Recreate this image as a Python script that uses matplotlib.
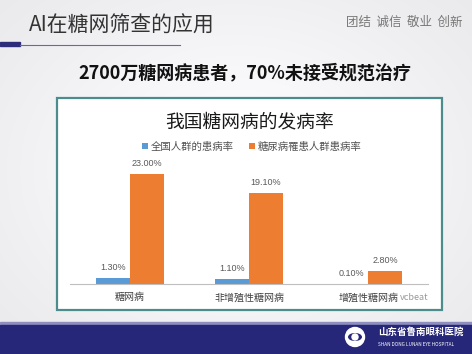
import numpy as np
import matplotlib
matplotlib.use("Agg")
import matplotlib.pyplot as plt
from matplotlib.patches import Rectangle, Circle, Ellipse

plt.rcParams['font.family'] = ['Noto Sans CJK SC', 'DejaVu Sans']

# =====================================================
# 数据
# =====================================================
categories = ["糖网病", "非增殖性糖网病", "增殖性糖网病"]
series_names = ["全国人群的患病率", "糖尿病罹患人群患病率"]
national = [1.30, 1.10, 0.10]
diabetic = [23.00, 19.10, 2.80]
colors = ["#5b9bd5", "#ed7d31"]

W, H = 472, 354


def fx(x):
    return x / W


def fy(y):
    return 1 - y / H


fig = plt.figure(figsize=(W / 100, H / 100), dpi=100)

# =====================================================
# 幻灯片背景
# =====================================================
bg = fig.add_axes([0, 0, 1, 1])
bg.set_xlim(0, W)
bg.set_ylim(H, 0)
bg.axis("off")

yy, xx = np.mgrid[0:H, 0:W]
grad = 0.90 + 0.09 * np.exp(-(((xx - 236) / 260) ** 2 + ((yy - 170) / 200) ** 2))
bg.imshow(np.dstack([grad, grad, grad * 1.01]).clip(0, 1),
          extent=[0, W, H, 0], aspect="auto", zorder=0)

# 标题
bg.text(29, 26, "AI在糖网筛查的应用", fontsize=15, color="#333333",
        va="center", ha="left")
bg.add_patch(Rectangle((0, 42), 20, 4, color="#2c2c7a", zorder=2))
bg.plot([20, 180], [44.5, 44.5], color="#6a6a9a", lw=0.8, zorder=2)
bg.text(462, 22, "团结  诚信  敬业  创新", fontsize=9, color="#777777",
        va="center", ha="right")

# 副标题
bg.text(245, 73, "2700万糖网病患者，70%未接受规范治疗", fontsize=13,
        fontweight="bold", color="#111111", va="center", ha="center")

# 图表框
bg.add_patch(Rectangle((57, 98), 385, 212, facecolor="white",
                       edgecolor="#4d8c8c", lw=1.6, zorder=1))

# 底部色带
bg.add_patch(Rectangle((0, 322), W, 3, color="#8f8fbf", zorder=1))
bg.add_patch(Rectangle((0, 325), W, 29, color="#27277a", zorder=1))
bg.add_patch(Circle((355, 337), 9.5, color="white", zorder=2))
bg.add_patch(Ellipse((355, 337), 14, 8, facecolor="#27277a",
                     edgecolor="none", zorder=3))
bg.add_patch(Circle((355, 337), 3, color="white", zorder=4))
bg.text(378, 332, "山东省鲁南眼科医院", fontsize=6.8, color="white",
        fontweight="bold", va="center", ha="left")
bg.text(378, 345, "SHAN DONG LUNAN EYE HOSPITAL", fontsize=3.4,
        color="white", va="center", ha="left")

# 图表标题
bg.text(250, 122, "我国糖网病的发病率", fontsize=13.5, color="#1a1a1a",
        va="center", ha="center", fontweight="medium")

# =====================================================
# 柱状图
# =====================================================
ax = fig.add_axes([fx(70), fy(284), fx(428) - fx(70), fy(160) - fy(284)])
ax.patch.set_alpha(0)

x = np.arange(len(categories))
w = 0.285
b1 = ax.bar(x - w / 2, national, w, color=colors[0], label=series_names[0])
b2 = ax.bar(x + w / 2, diabetic, w, color=colors[1], label=series_names[1])

for bars, vals in [(b1, national), (b2, diabetic)]:
    for r, v in zip(bars, vals):
        ax.annotate(f"{v:.2f}%", (r.get_x() + r.get_width() / 2, v),
                    xytext=(0, 4), textcoords="offset points",
                    ha="center", va="bottom", fontsize=6.5, color="#595959",
                    family=["Liberation Sans", "DejaVu Sans"])

ax.set_xlim(-0.5, len(categories) - 0.5)
ax.set_ylim(0, 25.9)
ax.set_xticks(x)
ax.set_xticklabels(categories, fontsize=7.2, color="#404040")
ax.tick_params(axis="x", length=0, pad=6)
ax.set_yticks([])
for s in ["top", "right", "left"]:
    ax.spines[s].set_visible(False)
ax.spines["bottom"].set_color("#bfbfbf")
ax.spines["bottom"].set_linewidth(0.8)

fig.legend(handles=[b1, b2], loc="center", bbox_to_anchor=(fx(252), fy(147)),
           ncol=2, frameon=False, fontsize=7.5, handlelength=0.5,
           handleheight=0.5, handletextpad=0.3, columnspacing=1.5,
           labelcolor="#505050")

bg.text(428, 297, "vcbeat", fontsize=6.5, color="#999999",
        va="center", ha="right", zorder=5)

fig.savefig("out.png", dpi=100)
